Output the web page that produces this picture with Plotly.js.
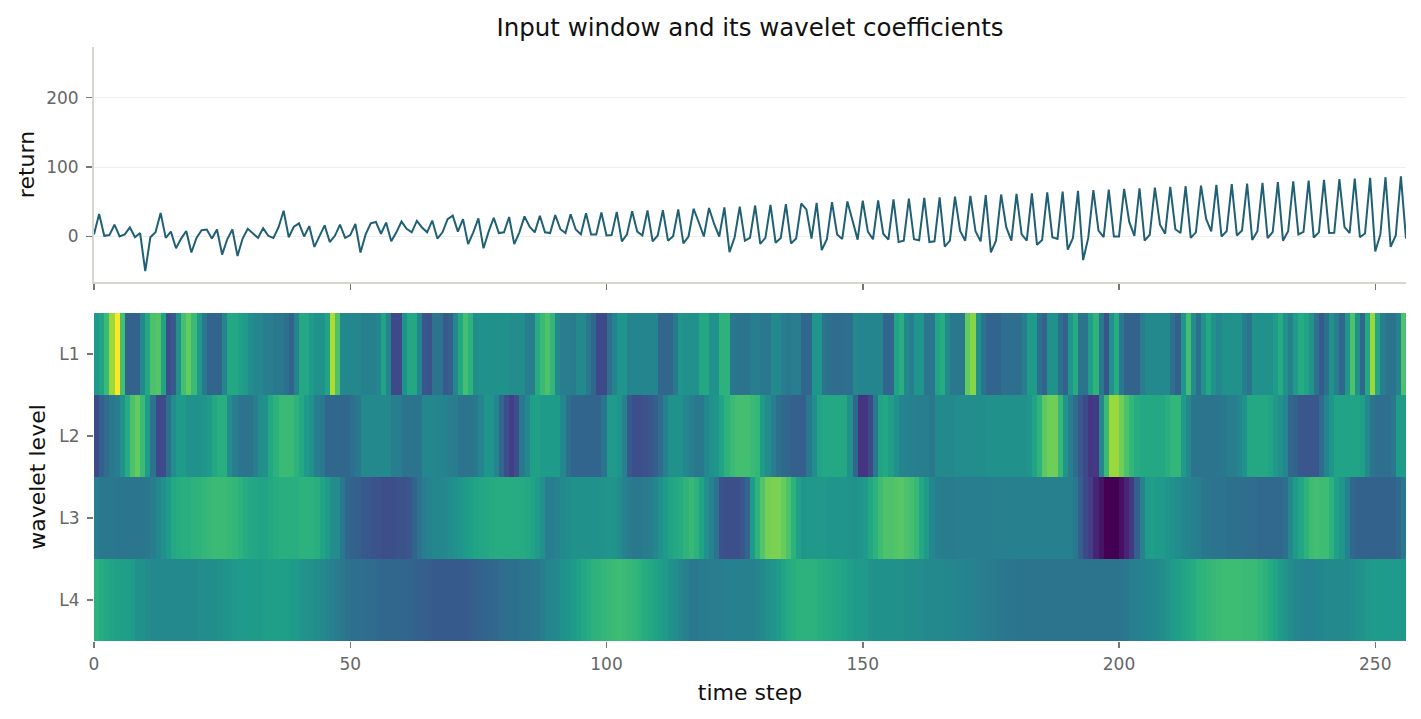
<!DOCTYPE html>
<html>
<head>
<meta charset="utf-8">
<title>Input window and its wavelet coefficients</title>
<script src="https://cdn.plot.ly/plotly-3.0.1.min.js"></script>
<style>
    html, body { margin: 0; padding: 0; background: #fff; }
    #graph { width: 1421px; height: 719px; }
</style>
</head>
<body>
<div id="graph"></div>
<script>
// input window, one value per time step
const returns = [
    3, 32.6, 1, 2, 17, 0, 3, 13, -1, 5,
    -50, -1, 6, 34, -2, 7, -17, -3, 8, -23,
    -2, 9, 10, -3, 10, -26, -4, 10, -28, -3,
    11, 5, -2, 12, 1, -2, 13, 37, -1, 14,
    19, 0, 15, -15, 0, 16, -8, 1, 17, -2,
    2, 18, -23, 3, 19, 21, 4, 20, -7, 6,
    21.5, 11, 6, 22.5, 13, 6, 23, -3, 6, 25,
    30, 7, 25, -11, 6, 26, -17, 7, 27, 5,
    6, 28, -11, 6, 29, 14, 6, 30, 6, 5,
    31, 10.5, 5, 32, 10, 3, 33.5, 3, 3, 34.5,
    1.5, 2, 35.5, -7, 3, 36.5, 7, 1.5, 37.5, -7,
    1.5, 38, -6, 0.5, 39, -10, 0, 40, 20.5, 0,
    41, 18, 0, 42, -22.5, -1, 43, -6, -2, 44.6,
    -10.5, -2, 45.5, -9, -2, 46.5, -10, -3, 47.5, 39,
    -3, 48.5, -19.5, -4, 49.5, 3, -3.5, 50.5, 23, -4.5,
    51.5, 7, -4, 52, 4, -4.5, 53.5, -8, -6, 54.5,
    -4, -5.5, 55.5, -8, -7, 56.5, -14.5, -6, 57.5, 8,
    -6, 58.5, 7.5, -7, 59.5, -23, -6, 60.5, 13.5, -6,
    61.5, 3, -6, 62, -12, -5, 63.5, -1, -3.5, 64.8,
    -19, -2.5, 65.7, -34, -2, 66.7, 8.5, -1, 67.6, 0,
    0, 68.6, 21, 1, 69.5, -6, 2.5, 70.5, 17, 4,
    71.5, 10.5, 5, 72.4, -2, 6, 73.4, 25.4, 7.5, 74.3,
    0, 7.5, 75.3, 1.5, 8.5, 76.3, -5, 7.5, 77.2, -2.5,
    6.7, 78.2, -6, 7.5, 79.6, 3, 6.7, 80.6, -1.5, 6,
    81.5, 5, 5.3, 82.5, 13.4, 5, 83.5, -1, 4.3, 84.4,
    -21.6, 3, 85.4, -15, 1.4, 86.8, -3
];

// wavelet coefficients, scaled to the colour range
const levelL1 = [
    .53,.58,.68,.85,1,.7,.31,.31,.31,.47,
    .6,.72,.73,.58,.24,.28,.5,.7,.76,.68,
    .53,.4,.32,.32,.32,.45,.6,.6,.57,.55,
    .48,.46,.46,.42,.42,.4,.4,.37,.31,.45,
    .6,.6,.55,.5,.5,.58,.88,.72,.47,.46,
    .46,.46,.43,.43,.43,.46,.58,.45,.22,.22,
    .5,.6,.6,.45,
    .27,.26,.38,.38,.28,.3,
    .46,.6,.7,.64,.49,.5,.5,.5,.5,.5,
    .5,.48,.48,.48,.42,.42,.62,.68,.72,.66,
    .47,.42,.42,.41,.47,.47,.4,.33,.22,.22,
    .37,.44,.52,.52,.45,.45,.45,.45,.45,.45,
    .33,.33,.33,.4,.52,.5,.5,.5,.6,.6,
    .5,.5,.64,.64,.4,.38,.38,.38,
    .42,.42,.4,.4,.47,.47,.42,.4,.42,.42,
    .33,.33,.52,.52,.38,.37,.35,.35,.36,.36,
    .47,.45,.45,.45,.45,.45,.32,.32,.58,.63,
    .47,.42,.52,.52,.39,.39,.58,.62,.47,.4,
    .4,.4,.76,.82,.5,.38,.32,.32,.32,.36,
    .36,.36,.36,.42,.55,.55,.36,.31,.5,.5,
    .36,.31,.52,.62,
    .38,.38,.56,.65,.4,.26,.5,.62,.4,.31,
    .31,.31,.42,.47,.47,.47,.47,.47,.36,.3,
    .52,.7,.48,.36,.5,.6,.5,.46,.5,.5,
    .5,.5,.42,.38,.5,.5,.5,.5,.55,.62,
    .5,.43,.55,.62,.58,.5,.38,.28,.37,.5,
    .42,.33,.52,.72,.5,.33,.6,.85,.6,.42,
    .38,.38,.44,.72
];
const levelL2 = [
    .22,.3,.35,.4,.42,.5,.62,.72,.76,.68,
    .55,.38,.22,.23,.37,.48,.55,.55,.5,.5,
    .5,.52,.55,.6,.63,.63,.48,.42,.38,.38,
    .38,.42,.48,.5,.6,.64,.68,.68,.68,.64,
    .6,.54,.5,.42,.4,.33,.33,.33,.33,.33,
    .36,.4,.47,.47,.47,.47,.47,.47,.42,.42,
    .38,.38,.38,.38,
    .46,.46,.46,.45,.44,.42,.41,.38,.38,.38,
    .4,.45,.52,.52,.45,.33,.24,.18,.24,.4,
    .46,.56,.57,.55,.55,.55,.55,.46,.37,.32,
    .32,.32,.32,.32,.32,.38,.54,.54,.52,.44,
    .28,.24,.24,.25,.27,.3,.35,.43,.5,.5,
    .5,.46,.42,.4,.4,.46,.5,.52,.58,.64,
    .68,.7,.7,.7,
    .68,.66,.55,.48,.42,.37,.34,.33,.3,.3,
    .3,.4,.48,.58,.6,.6,.6,.6,.6,.5,
    .33,.15,.15,.22,.4,.58,.6,.56,.5,.45,
    .44,.43,.42,.42,.42,.4,.47,.47,.47,.47,
    .48,.48,.48,.49,.49,.49,.5,.5,.5,.5,
    .5,.5,.5,.5,.52,.58,.65,.75,.78,.78,
    .67,.52,.42,.35,
    .28,.22,.16,.17,.46,.68,.85,.85,.78,.72,
    .66,.62,.6,.6,.6,.6,.6,.63,.66,.66,
    .54,.47,.38,.38,.38,.38,.38,.39,.4,.42,
    .42,.46,.5,.6,.6,.6,.6,.58,.53,.5,
    .46,.33,.31,.27,.27,.27,.27,.35,.45,.52,
    .58,.58,.58,.58,.58,.56,.47,.38,.36,.36,
    .36,.4,.55,.55
];
const levelL3 = [
    .42,.4,.4,.4,.39,.39,.39,.39,.39,.39,
    .4,.42,.46,.5,.55,.6,.62,.63,.63,.64,
    .65,.66,.67,.68,.68,.68,.67,.66,.64,.62,
    .6,.59,.58,.58,.6,.62,.63,.63,.63,.63,
    .64,.64,.64,.63,.58,.54,.48,.48,.4,.33,
    .31,.3,.28,.27,.26,.25,.24,.24,.24,.25,
    .25,.27,.32,.38,.42,.44,.46,.46,.47,.48,
    .5,.52,.54,.56,.58,.59,.6,.61,.62,.62,
    .62,.62,.62,.61,.6,.58,.54,.5,.42,.42,
    .44,.47,.49,.5,.5,.5,.5,.5,.5,.51,
    .52,.51,.48,.44,.41,.4,.4,.41,.42,.46,
    .5,.54,.58,.6,.62,.65,.67,.64,.58,.5,
    .44,.38,.26,.24,.24,.24,.27,.33,
    .55,.65,.73,.79,.8,.8,.77,.72,.64,.57,
    .52,.53,.53,.53,.53,.52,.52,.52,.52,.51,
    .5,.52,.54,.6,.64,.69,.72,.72,.73,.74,
    .72,.7,.67,.6,.55,.46,.42,.41,.41,.41,
    .42,.42,.42,.42,.42,.42,.42,.43,.43,.43,
    .43,.43,.43,.43,.43,.43,.43,.43,.43,.43,
    .43,.43,.43,.4,
    .3,.22,.18,.1,.05,0,0,0,.04,.1,
    .17,.3,.44,.55,.56,.55,.54,.52,.5,.48,
    .46,.45,.43,.42,.4,.39,.38,.38,.38,.37,
    .37,.37,.36,.35,.35,.34,.34,.34,.34,.34,
    .37,.47,.55,.59,.64,.69,.7,.69,.69,.64,
    .57,.52,.44,.34,.31,.31,.31,.31,.31,.31,
    .31,.31,.34,.4
];
const levelL4 = [
    .64,.62,.6,.58,.57,.56,.56,.55,.5,.5,
    .48,.47,.47,.47,.47,.47,.47,.47,.47,.47,
    .48,.48,.48,.49,.5,.51,.52,.53,.54,.54,
    .55,.55,.55,.56,.56,.56,.56,.56,.55,.54,
    .52,.51,.5,.48,.47,.45,.43,.41,.4,.38,
    .37,.36,.36,.35,.35,.34,.33,.33,.33,.33,
    .33,.32,.31,.3,.3,.29,.28,.28,.28,.28,
    .28,.28,.28,.29,.3,.31,.32,.33,.34,.35,
    .36,.37,.37,.38,.38,.39,.4,.42,.45,.46,
    .47,.5,.52,.55,.57,.6,.62,.64,.65,.66,
    .67,.68,.69,.68,.67,.66,.64,.62,.6,.58,
    .56,.53,.5,.48,.46,.43,.4,.4,.41,.41,
    .42,.42,.42,.43,.43,.43,.43,.43,
    .43,.45,.47,.5,.52,.55,.58,.61,.63,.64,
    .64,.64,.64,.63,.62,.61,.6,.59,.58,.56,
    .55,.54,.53,.51,.5,.5,.5,.5,.5,.5,
    .49,.49,.48,.48,.47,.47,.47,.47,.46,.46,
    .45,.45,.44,.44,.43,.42,.41,.41,.4,.4,
    .39,.39,.38,.38,.38,.38,.38,.38,.38,.38,
    .38,.38,.38,.38,
    .38,.38,.38,.38,.38,.38,.38,.38,.39,.4,
    .42,.43,.44,.45,.46,.47,.48,.51,.54,.56,
    .58,.6,.62,.64,.65,.66,.67,.68,.69,.69,
    .69,.69,.68,.68,.68,.66,.64,.61,.58,.55,
    .52,.49,.46,.45,.44,.44,.45,.45,.47,.47,
    .47,.47,.47,.48,.5,.51,.53,.54,.54,.55,
    .55,.54,.54,.53
];
const levels = ['L1', 'L2', 'L3', 'L4'];
const timeTicks = [0, 50, 100, 150, 200, 250];
const returnTicks = [0, 100, 200];

const fontFamily = '"DejaVu Sans", sans-serif';
const tickFont = { family: fontFamily, size: 17, color: '#666666' };
const axisFont = { family: fontFamily, size: 22, color: '#111111' };
const spineColor = '#d6d6ce';
const tickColor = '#77776f';

let data = [
    {
        type: 'scatter',
        mode: 'lines',
        y: returns,
        line: { color: '#1f6075', width: 2 },
        xaxis: 'x2',
        yaxis: 'y2',
        hoverinfo: 'skip'
    },
    {
        type: 'heatmap',
        z: [levelL1, levelL2, levelL3, levelL4],
        x0: 0.5,
        dx: 1,
        y: levels,
        zmin: 0,
        zmax: 1,
        colorscale: 'Viridis',
        showscale: false,
        zsmooth: false
    }
];

let layout = {
    width: 1421,
    height: 719,
    margin: { l: 94, r: 15, t: 47, b: 78 },
    paper_bgcolor: '#ffffff',
    plot_bgcolor: '#ffffff',
    showlegend: false,
    font: { family: fontFamily },
    title: {
        text: 'Input window and its wavelet coefficients',
        font: { family: fontFamily, size: 24.5, color: '#111111' },
        x: 750 / 1421,
        xanchor: 'center',
        y: 1 - 27 / 719,
        yanchor: 'middle'
    },
    xaxis: {
        domain: [0, 1],
        range: [0, 256],
        tickvals: timeTicks,
        ticks: 'outside',
        ticklen: 6,
        tickwidth: 1.5,
        tickcolor: tickColor,
        tickfont: tickFont,
        ticklabelstandoff: 2,
        showgrid: false,
        zeroline: false,
        title: { text: 'time step', font: axisFont, standoff: 11 }
    },
    yaxis: {
        domain: [0, 0.5522],
        autorange: 'reversed',
        type: 'category',
        ticks: 'outside',
        ticklen: 6,
        tickwidth: 1.5,
        tickcolor: tickColor,
        tickfont: tickFont,
        ticklabelstandoff: 4,
        showgrid: false,
        zeroline: false,
        title: { text: 'wavelet level', font: axisFont, standoff: 7 }
    },
    xaxis2: {
        domain: [0, 1],
        anchor: 'y2',
        range: [0, 256],
        tickvals: timeTicks,
        showticklabels: false,
        ticks: 'outside',
        ticklen: 6,
        tickwidth: 1.5,
        tickcolor: tickColor,
        showgrid: false,
        zeroline: false,
        showline: true,
        linecolor: spineColor,
        linewidth: 2
    },
    yaxis2: {
        domain: [0.6044, 1],
        anchor: 'x2',
        range: [-65.5, 272.9],
        tickvals: returnTicks,
        ticks: 'outside',
        ticklen: 6,
        tickwidth: 1.5,
        tickcolor: tickColor,
        tickfont: tickFont,
        ticklabelstandoff: 4,
        showgrid: true,
        gridcolor: '#eeeeea',
        gridwidth: 1,
        zeroline: false,
        showline: true,
        linecolor: spineColor,
        linewidth: 2,
        title: { text: 'return', font: axisFont, standoff: 5 }
    }
};

Plotly.newPlot('graph', data, layout, { displayModeBar: false, staticPlot: true });
</script>
</body>
</html>
